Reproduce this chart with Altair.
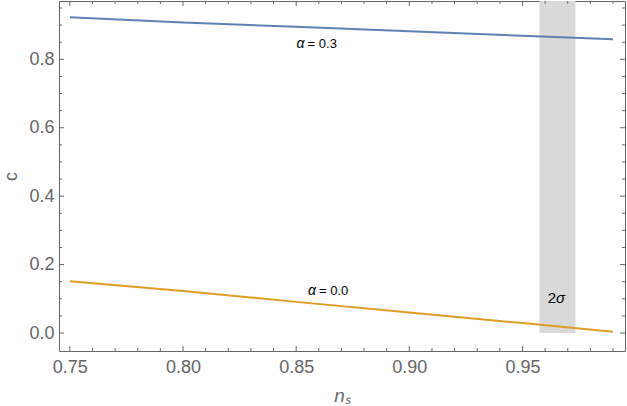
import altair as alt
import pandas as pd

# ---- data ----
ns_blue = [0.75, 0.80, 0.85, 0.90, 0.95, 0.99]
c_blue = [0.923, 0.908, 0.895, 0.882, 0.869, 0.859]
ns_orange = [0.75, 0.80, 0.85, 0.90, 0.95, 0.99]
c_orange = [0.151, 0.123, 0.091, 0.060, 0.029, 0.004]

band_x = [0.9575, 0.9734]
band_y = [0.0]

label_greek = ["α", "α"]
label_rest = ["= 0.3", "= 0.0"]
label_x = [0.8502, 0.8552]   # left edge of each label
label_y = [0.845, 0.123]

sigma_num = ["2"]
sigma_greek = ["σ"]
sigma_x = [0.9648]
sigma_y = [0.103]

x_major = [0.75, 0.80, 0.85, 0.90, 0.95]
x_minor = [0.76, 0.77, 0.78, 0.79, 0.81, 0.82, 0.83, 0.84, 0.86, 0.87, 0.88,
           0.89, 0.91, 0.92, 0.93, 0.94, 0.96, 0.97, 0.98, 0.99]
y_major = [0.0, 0.2, 0.4, 0.6, 0.8]
y_minor = [0.05, 0.10, 0.15, 0.25, 0.30, 0.35, 0.45, 0.50, 0.55, 0.65, 0.70,
           0.75, 0.85, 0.90, 0.95]

x_domain = [0.7452, 0.9953]
y_domain = [-0.0526, 0.9705]

W, H = 566, 350
GRAY = "#666666"
FONT = "Liberation Sans"

xs = alt.Scale(domain=x_domain, nice=False, zero=False)
ys = alt.Scale(domain=y_domain, nice=False, zero=False)

lines_df = pd.DataFrame({
    "ns": ns_blue + ns_orange,
    "c": c_blue + c_orange,
    "series": ["α = 0.3"] * len(ns_blue) + ["α = 0.0"] * len(ns_orange),
})
band_df = pd.DataFrame({"x0": [band_x[0]], "x1": [band_x[1]], "y0": band_y})
lab_df = pd.DataFrame({"g": label_greek, "r": label_rest, "x": label_x, "y": label_y})
sig_df = pd.DataFrame({"n": sigma_num, "g": sigma_greek, "x": sigma_x, "y": sigma_y})
xmaj_df = pd.DataFrame({"v": x_major})
xmin_df = pd.DataFrame({"v": x_minor})
ymaj_df = pd.DataFrame({"v": y_major})
ymin_df = pd.DataFrame({"v": y_minor})

x_axis = alt.Axis(values=x_major, format=".2f", ticks=False, domain=False, grid=False,
                  labelFontSize=18, labelColor=GRAY, labelFont=FONT, labelPadding=7,
                  title="nₛ", titleFontSize=19, titleColor=GRAY, titleFont=FONT,
                  titleFontStyle="italic", titleFontWeight="normal", titlePadding=10)
y_axis = alt.Axis(values=y_major, format=".1f", ticks=False, domain=False, grid=False,
                  labelFontSize=18, labelColor=GRAY, labelFont=FONT, labelPadding=5,
                  title="c", titleFontSize=18, titleColor=GRAY, titleFont=FONT,
                  titleFontWeight="normal", titlePadding=8)

band = alt.Chart(band_df).mark_rect(color="#D9D9D9").encode(
    x=alt.X("x0:Q", scale=xs, axis=x_axis),
    x2="x1:Q",
    y=alt.Y("y0:Q", scale=ys, axis=y_axis),
    y2=alt.value(0),
)

lines = alt.Chart(lines_df).mark_line(strokeWidth=2).encode(
    x=alt.X("ns:Q", scale=xs),
    y=alt.Y("c:Q", scale=ys),
    color=alt.Color("series:N", scale=alt.Scale(domain=["α = 0.3", "α = 0.0"],
                                                range=["#5E81B5", "#E19C24"]), legend=None),
)

lab_g = alt.Chart(lab_df).mark_text(fontSize=14, font=FONT, fontStyle="italic",
                                    color="black", align="left").encode(
    x=alt.X("x:Q", scale=xs), y=alt.Y("y:Q", scale=ys), text="g:N")
lab_r = alt.Chart(lab_df).mark_text(fontSize=13, font=FONT, color="black",
                                    align="left", dx=11).encode(
    x=alt.X("x:Q", scale=xs), y=alt.Y("y:Q", scale=ys), text="r:N")

sig_n = alt.Chart(sig_df).mark_text(fontSize=15, font=FONT, color="black",
                                    align="right", dx=0).encode(
    x=alt.X("x:Q", scale=xs), y=alt.Y("y:Q", scale=ys), text="n:N")
sig_g = alt.Chart(sig_df).mark_text(fontSize=15, font=FONT, fontStyle="italic",
                                    color="black", align="left", dx=0).encode(
    x=alt.X("x:Q", scale=xs), y=alt.Y("y:Q", scale=ys), text="g:N")

MAJ, MIN = 5, 3
tick_layers = []
for df, L in [(xmaj_df, MAJ), (xmin_df, MIN)]:
    tick_layers.append(alt.Chart(df).mark_rule(color=GRAY, strokeWidth=1).encode(
        x=alt.X("v:Q", scale=xs), y=alt.value(H), y2=alt.value(H - L)))
    tick_layers.append(alt.Chart(df).mark_rule(color=GRAY, strokeWidth=1).encode(
        x=alt.X("v:Q", scale=xs), y=alt.value(0), y2=alt.value(L)))
for df, L in [(ymaj_df, MAJ), (ymin_df, MIN)]:
    tick_layers.append(alt.Chart(df).mark_rule(color=GRAY, strokeWidth=1).encode(
        y=alt.Y("v:Q", scale=ys), x=alt.value(0), x2=alt.value(L)))
    tick_layers.append(alt.Chart(df).mark_rule(color=GRAY, strokeWidth=1).encode(
        y=alt.Y("v:Q", scale=ys), x=alt.value(W), x2=alt.value(W - L)))

chart = alt.layer(band, lines, lab_g, lab_r, sig_n, sig_g, *tick_layers).properties(
    width=W, height=H,
    autosize=alt.AutoSizeParams(type="none"),
    padding={"left": 59, "top": 1, "right": 2, "bottom": 55},
    background="white",
).configure_view(stroke=GRAY, strokeWidth=1)

chart.save("out.html", embed_options={"renderer": "svg", "actions": False})
